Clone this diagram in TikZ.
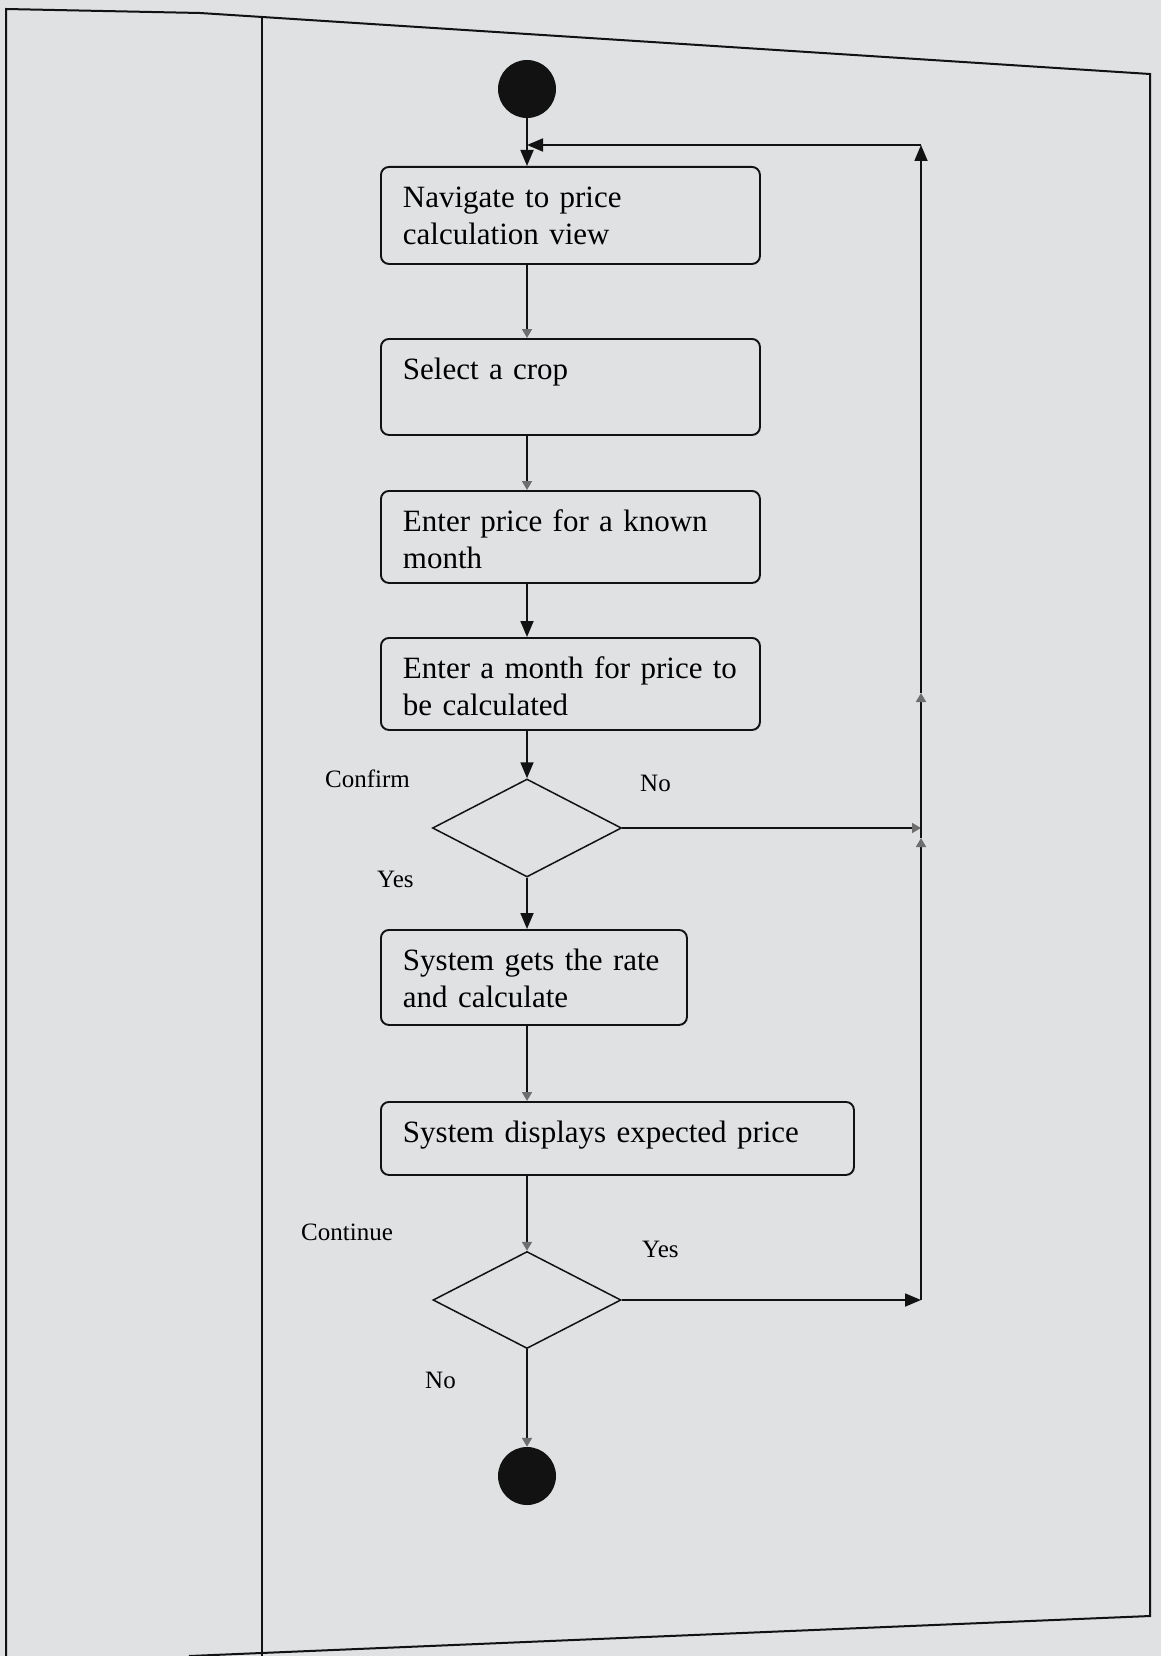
\documentclass[tikz,border=0pt]{standalone}
\usepackage{fontspec}
\setmainfont{Liberation Serif}
\usetikzlibrary{shapes.geometric,arrows.meta}
\definecolor{bg}{RGB}{223,225,226}
\definecolor{ink}{RGB}{18,18,18}
\definecolor{ghost}{RGB}{110,110,110}
\begin{document}
\begin{tikzpicture}[x=1pt,y=-1pt,
  actbox/.style={draw=ink, line width=1.9pt, rounded corners=8pt, anchor=north west,
    align=left, inner xsep=22pt, inner ysep=0pt, text height=41pt,
    font=\fontsize{31}{37}\selectfont},
  decision/.style={draw=ink, line width=1.5pt, diamond, inner sep=0pt,
    minimum width=189pt, minimum height=98pt},
  terminal/.style={circle, fill=ink, inner sep=0pt, minimum size=58pt},
  lbl/.style={anchor=base west, inner sep=0pt, font=\fontsize{25}{28}\selectfont},
  flow/.style={draw=ink, line width=1.8pt},
  solidtip/.style={-{Triangle[length=16pt,width=13pt]}},
  ghosttip/.style={-{Triangle[length=9pt,width=10pt,color=ghost]}},
  frame/.style={draw=ink, line width=2pt}
]
\useasboundingbox (0,0) rectangle (1161,1656);
\fill[bg] (0,0) rectangle (1161,1656);
% page frame and lane divider
\draw[frame] (6,1656) -- (6,9) -- (200,13) -- (1150,74) -- (1150,1616) -- (189,1656);
\draw[frame] (262,17) -- (262,1656);

% nodes
\node[terminal] (start) at (527,89) {};
\node[actbox, text width=335pt, text depth=56pt] (b1) at (380,166)
  {\mbox{Navigate to price}\\\mbox{calculation view}};
\node[actbox, text width=335pt, text depth=55pt] (b2) at (380,338)
  {\mbox{Select a crop}};
\node[actbox, text width=335pt, text depth=51pt] (b3) at (380,490)
  {\mbox{Enter price for a known}\\\mbox{month}};
\node[actbox, text width=335pt, text depth=51pt] (b4) at (380,637)
  {\mbox{Enter a month for price to}\\\mbox{be calculated}};
\node[decision] (d1) at (527,828) {};
\node[actbox, text width=262pt, text depth=54pt] (b5) at (380,929)
  {\mbox{System gets the rate}\\\mbox{and calculate}};
\node[actbox, text width=429pt, text depth=32pt] (b6) at (380,1101)
  {\mbox{System displays expected price}};
\node[decision, minimum width=188pt, minimum height=97pt] (d2) at (527,1300) {};
\node[terminal] (finish) at (527,1476) {};

% labels
\node[lbl] (confirm) at (325,787) {Confirm};
\node[lbl] (no1) at (640,791) {No};
\node[lbl] (yes1) at (377,887) {Yes};
\node[lbl] (cont) at (301,1240) {Continue};
\node[lbl] (yes2) at (642,1257) {Yes};
\node[lbl] (no2) at (425,1388) {No};

% helper coordinates
\coordinate (ctop) at (921,145);
\coordinate (loopin) at (start |- ctop);
\coordinate (cbot) at (d2.east -| ctop);
\coordinate (vA) at (921,838);
\coordinate (vB) at (921,693);

% connectors
\draw[flow, solidtip] (start) -- (start |- b1.north);
\draw[flow, solidtip] (ctop) -- (loopin);
\draw[flow, ghosttip] (b1.south -| start) -- (b2.north -| start);
\draw[flow, ghosttip] (b2.south -| start) -- (b3.north -| start);
\draw[flow, solidtip] (b3.south -| start) -- (b4.north -| start);
\draw[flow, solidtip] (b4.south -| start) -- (d1.north);
\draw[flow, solidtip] (d1.south) -- (b5.north -| d1);
\draw[flow, ghosttip] (b5.south -| d1) -- (b6.north -| d1);
\draw[flow, ghosttip] (b6.south -| d1) -- (d2.north);
\draw[flow, ghosttip] (d2.south) -- (finish);
\draw[flow, ghosttip] (d1.east) -- (d1.east -| ctop);
\draw[flow, solidtip] (d2.east) -- (cbot);
\draw[flow, ghosttip] (cbot) -- (vA);
\draw[flow, ghosttip] (vA) -- (vB);
\draw[flow, solidtip] (vB) -- (ctop);
\end{tikzpicture}
\end{document}
